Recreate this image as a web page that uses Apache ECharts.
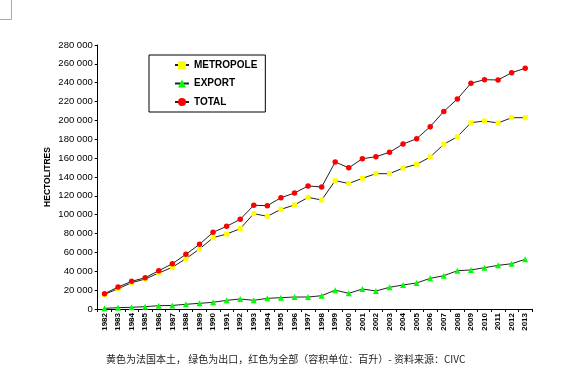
<!DOCTYPE html>
<html>
<head>
<meta charset="utf-8">
<script src="https://cdn.jsdelivr.net/npm/echarts@6/dist/echarts.min.js"></script>
<style>
html,body{margin:0;padding:0;background:#fff;}
#chart{width:564px;height:381px;}
</style>
</head>
<body>
<div id="chart"></div>
<script>
var years = ['1982','1983','1984','1985','1986','1987','1988','1989','1990','1991','1992','1993','1994','1995','1996','1997','1998','1999','2000','2001','2002','2003','2004','2005','2006','2007','2008','2009','2010','2011','2012','2013'];
var metropole = [15500,21500,27900,31800,38200,44200,53400,63600,75600,79500,85200,101100,98300,105700,110300,118400,115600,136100,133100,138600,143500,143500,149500,153400,161200,174700,182700,197600,199400,197300,202900,202900];
var exportVals = [700,1400,1800,2500,3500,3800,5000,6000,7100,9200,10600,9200,11300,12000,12700,12700,14100,20000,16600,21200,19100,23000,25500,27600,32500,35300,40600,41400,43800,46300,48000,52700];
var total = [16200,23300,29300,33200,40600,48000,58000,68600,81300,87700,95100,110000,109600,118000,123000,130500,129400,155900,149700,159400,161500,166200,175000,180600,193400,209600,222700,239400,243200,242900,250600,255300];
var seriesNames = ['METROPOLE','EXPORT','TOTAL'];
var yTitle = 'HECTOLITRES';
var caption = '黄色为法国本土， 绿色为出口，红色为全部（容积单位：百升）- 资料来源：CIVC';

var FONT = 'Arial, "Liberation Sans", sans-serif';
var chart = echarts.init(document.getElementById('chart'), null, {renderer:'canvas'});
function fmt(v){ return String(v).replace(/\B(?=(\d{3})+(?!\d))/g,' '); }
var lineStyle = {color:'#222', width:1};
chart.setOption({
  animation:false,
  backgroundColor:'#fff',
  grid:{left:97.7, right:32, top:45, bottom:72, containLabel:false},
  legend:{
    left:149, top:55, orient:'vertical',
    data:seriesNames,
    itemWidth:14, itemHeight:10, itemGap:8.5,
    padding:[5,8,5,25],
    borderColor:'#000', borderWidth:1, backgroundColor:'#fff',
    textStyle:{fontFamily:FONT, fontWeight:'bold', fontSize:10, color:'#000'}
  },
  xAxis:{
    type:'category', data:years, boundaryGap:true,
    axisLine:{lineStyle:{color:'#000', width:1}},
    axisTick:{show:true, interval:0, length:3, alignWithLabel:false, lineStyle:{color:'#000'}},
    axisLabel:{interval:0, rotate:90, fontFamily:FONT, fontWeight:'bold', fontSize:8, color:'#000', margin:4}
  },
  yAxis:{
    type:'value', min:0, max:280000, interval:20000,
    name:yTitle, nameLocation:'middle', nameGap:46, nameRotate:90, nameMoveOverlap:false,
    nameTextStyle:{fontFamily:FONT, fontWeight:'bold', fontSize:8.5, color:'#000'},
    axisLine:{show:true, lineStyle:{color:'#000', width:1}},
    axisTick:{show:true, length:3, lineStyle:{color:'#000'}},
    splitLine:{show:false},
    axisLabel:{formatter:fmt, fontFamily:FONT, fontSize:9.5, color:'#000', margin:5}
  },
  series:[
    {name:seriesNames[0], type:'line', data:metropole, symbol:'rect', symbolSize:5,
     itemStyle:{color:'#FFFF00'}, lineStyle:lineStyle, z:3},
    {name:seriesNames[1], type:'line', data:exportVals, symbol:'triangle', symbolSize:6,
     itemStyle:{color:'#00FF00'}, lineStyle:lineStyle, z:2},
    {name:seriesNames[2], type:'line', data:total, symbol:'circle', symbolSize:5.5,
     itemStyle:{color:'#FF0000'}, lineStyle:lineStyle, z:4}
  ],
  graphic:[
    {type:'rect', x:0, y:0, shape:{x:-5,y:-5,width:16.5,height:24.5}, style:{fill:'none', stroke:'#aaa', lineWidth:1}},
    {type:'text', left:106, top:354, style:{text:caption, font:'10px "Noto Sans CJK SC", sans-serif', fill:'#222'}}
  ]
});
</script>
</body>
</html>
